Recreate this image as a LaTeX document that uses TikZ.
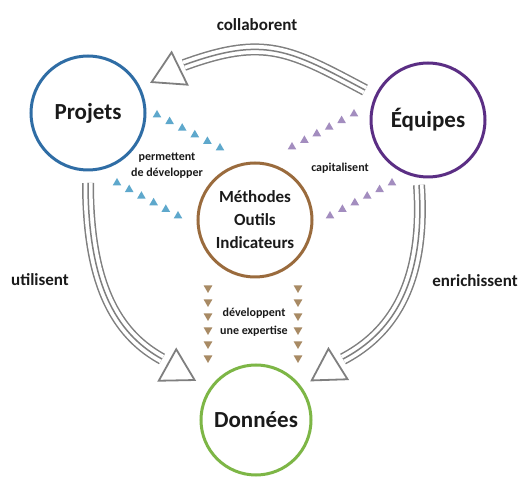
\documentclass[tikz,border=0pt]{standalone}
\usepackage{fontspec}
\setmainfont{Carlito}
\usetikzlibrary{shapes.geometric,calc}

\definecolor{projblue}{HTML}{2F6DA5}
\definecolor{equviolet}{HTML}{5B2E84}
\definecolor{methbrown}{HTML}{9A6B3D}
\definecolor{dongreen}{HTML}{7DB646}
\definecolor{arcgray}{HTML}{7F7F7F}
\definecolor{triblue}{HTML}{5EA8CC}
\definecolor{triviolet}{HTML}{A38DBF}
\definecolor{tritan}{HTML}{A88A64}
\definecolor{inkblack}{HTML}{1A1A1A}

\tikzset{
  pole/.style={circle,line width=3pt,minimum size=114pt,inner sep=0pt,text=inkblack,
    font=\bfseries\fontsize{23}{26}\selectfont},
  verb/.style={text=inkblack,font=\bfseries\fontsize{17}{20}\selectfont},
  smallverb/.style={text=inkblack,align=center,font=\bfseries\fontsize{12}{16}\selectfont},
  tripleline/.style={preaction={draw=arcgray,line width=12pt},draw=white,line width=9pt,
    postaction={draw=arcgray,line width=1.5pt}},
  opentri/.style={draw=arcgray,line width=1.8pt,line join=miter},
  dot/.style={regular polygon,regular polygon sides=3,minimum size=10pt,inner sep=0pt,draw=none},
  dotdown/.style={dot,shape border rotate=180}
}

\begin{document}
\begin{tikzpicture}[x=1pt,y=1pt]
	\useasboundingbox (0,0) rectangle (520,477);
	\node[pole,draw=projblue] (proj) at (88,364) {Projets};
	\node[pole,draw=equviolet] (equ) at (428,357) {Équipes};
	\node[pole,draw=methbrown,align=center,font=\bfseries\fontsize{17}{23}\selectfont] (meth) at (255,257) {Méthodes\\Outils\\Indicateurs};
	\node[pole,draw=dongreen,minimum size=110pt] (don) at (256,57) {Données};

	% big arcs
	\coordinate (c1) at ([shift={(-63,30)}]equ.center);
	\coordinate (c2) at ([shift={(96,48)}]proj.center);
	\coordinate (c3) at ([shift={(0,-70)}]proj.center);
	\coordinate (c4) at ([shift={(-94,61)}]don.center);
	\coordinate (c5) at ([shift={(-9,-65)}]equ.center);
	\coordinate (c6) at ([shift={(87,61)}]don.center);
	\path (c1) edge[tripleline,out=152,in=20,looseness=1.2] (c2)
	    (c3) edge[tripleline,out=-90,in=151,out distance=110pt,in distance=46pt] (c4)
	    (c5) edge[tripleline,out=-86,in=28,out distance=112pt,in distance=43pt] (c6);

	\coordinate (t1) at ([shift={(91.5,44.5)}]proj.center);
	\coordinate (t2) at ([shift={(-88.5,55)}]don.center);
	\coordinate (t3) at ([shift={(82,56)}]don.center);
	\draw[opentri,shift={(t1)},rotate=206] (0,18) -- (31,0) -- (0,-18) -- cycle;
	\draw[opentri,shift={(t2)},rotate=-29] (0,18) -- (31,0) -- (0,-18) -- cycle;
	\draw[opentri,shift={(t3)},rotate=212] (0,18) -- (31,0) -- (0,-18) -- cycle;

	\node[verb] (collab) at (257,452) {collaborent};
	\node[verb] (util) at (40,197) {utilisent};
	\node[verb] (enrich) at (475,196) {enrichissent};

	% small triangle rows
	\coordinate (pb1) at (157,362); \coordinate (pb2) at (220,329);
	\coordinate (pb3) at (117,294); \coordinate (pb4) at (178,261);
	\coordinate (pv1) at (292,330); \coordinate (pv2) at (354,363);
	\coordinate (pv3) at (330,261); \coordinate (pv4) at (392,294);
	\coordinate (pt1) at (208,189); \coordinate (pt2) at (208,119);
	\coordinate (pt3) at (298,189); \coordinate (pt4) at (298,119);
	\foreach \i in {0,...,5} {
		\node[dot,fill=triblue] at ($(pb1)!\i/5!(pb2)$) {};
		\node[dot,fill=triblue] at ($(pb3)!\i/5!(pb4)$) {};
		\node[dot,fill=triviolet] at ($(pv1)!\i/5!(pv2)$) {};
		\node[dot,fill=triviolet] at ($(pv3)!\i/5!(pv4)$) {};
		\node[dotdown,fill=tritan] at ($(pt1)!\i/5!(pt2)$) {};
		\node[dotdown,fill=tritan] at ($(pt3)!\i/5!(pt4)$) {};
	}

	\node[smallverb] (perm) at (167,311) {permettent\\de développer};
	\node[smallverb] (capi) at (340,309) {capitalisent};
	\node[smallverb,font=\bfseries\fontsize{12}{18}\selectfont] (devel) at (254,155) {développent\\une expertise};
\end{tikzpicture}
\end{document}
